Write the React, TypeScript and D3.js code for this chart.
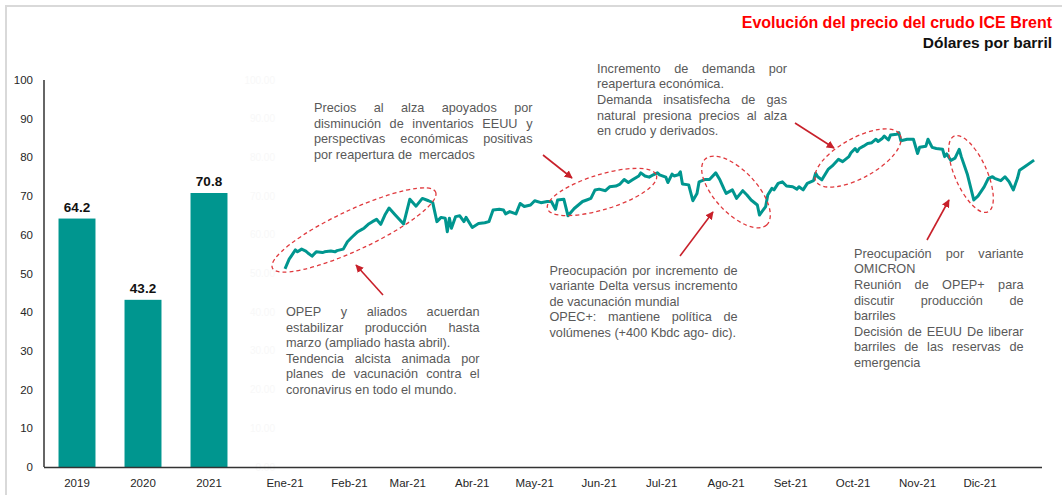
import React from 'react';
import * as d3 from 'd3';

const barYears = ['2019', '2020', '2021'];
const barValues = [64.2, 43.2, 70.8];
const yTicks = [0, 10, 20, 30, 40, 50, 60, 70, 80, 90, 100];
const monthLabels = ['Ene-21', 'Feb-21', 'Mar-21', 'Abr-21', 'May-21', 'Jun-21', 'Jul-21', 'Ago-21', 'Set-21', 'Oct-21', 'Nov-21', 'Dic-21'];

const brentDates = [
  '01-01', '01-03', '01-04', '01-06', '01-07', '01-09', '01-11', '01-12', '01-14', '01-16', '01-19', '01-20', '01-23', '01-25', '01-26', '01-29', '01-31',
  '02-02', '02-05', '02-07', '02-08', '02-10', '02-12', '02-14', '02-16', '02-18', '02-20', '02-23', '02-27',
  '03-02', '03-05', '03-08', '03-11', '03-13', '03-15', '03-17', '03-19', '03-20', '03-21', '03-22', '03-24', '03-26', '03-28', '03-29',
  '04-01', '04-04', '04-07', '04-09', '04-11', '04-14', '04-16', '04-17', '04-19', '04-22', '04-24', '04-26', '04-29',
  '05-01', '05-04', '05-07', '05-09', '05-11', '05-12', '05-15', '05-17', '05-20', '05-22', '05-24', '05-26', '05-28', '05-30',
  '06-01', '06-04', '06-06', '06-09', '06-11', '06-13', '06-15', '06-17', '06-20', '06-21', '06-23', '06-25', '06-27', '06-29', '06-30',
  '07-03', '07-04', '07-06', '07-07', '07-09', '07-10', '07-11', '07-14', '07-16', '07-18', '07-19', '07-22', '07-24', '07-27', '07-29', '07-31',
  '08-01', '08-04', '08-06', '08-09', '08-11', '08-13', '08-16', '08-17', '08-20', '08-21', '08-23', '08-24', '08-26', '08-28', '08-30',
  '09-02', '09-04', '09-05', '09-07', '09-09', '09-12', '09-13', '09-14', '09-16', '09-19', '09-21', '09-24', '09-26', '09-29', '09-30',
  '10-02', '10-03', '10-04', '10-06', '10-08', '10-10', '10-12', '10-13', '10-15', '10-16', '10-18', '10-19', '10-22', '10-23', '10-24', '10-27', '10-30',
  '11-01', '11-02', '11-05', '11-06', '11-08', '11-10', '11-13', '11-14', '11-15', '11-17', '11-19', '11-21', '11-22', '11-25', '11-28', '11-30',
  '12-03', '12-05', '12-07', '12-08', '12-11', '12-13', '12-15', '12-17', '12-19', '12-20', '12-23', '12-27',
];
const brentValues = [
  51.2, 53.7, 54.5, 56.1, 55.6, 56.3, 55.8, 55.3, 54.5, 55.6, 55.4, 55.6, 55.8, 55.6, 55.9, 56.3, 58.2,
  59.3, 60.8, 61.4, 61.7, 62.7, 63.4, 64.0, 62.7, 65.1, 66.9, 65.1, 62.8,
  69.2, 67.4, 69.4, 68.8, 68.3, 63.4, 64.5, 64.3, 60.8, 64.3, 61.7, 64.7, 64.9, 63.4, 64.5,
  61.9, 62.9, 63.1, 63.4, 66.4, 66.6, 66.4, 65.4, 66.0, 65.4, 68.1, 67.3, 67.7,
  68.8, 68.3, 68.6, 68.6, 66.6, 69.0, 69.2, 64.9, 66.8, 67.7, 68.6, 69.0, 69.4, 71.6,
  71.8, 71.4, 72.4, 72.6, 73.1, 74.3, 73.5, 74.2, 75.2, 76.0, 75.2, 74.9, 75.5, 76.0, 75.5,
  74.9, 73.5, 75.7, 75.2, 75.5, 76.3, 73.1, 72.9, 68.8, 70.7, 73.7, 74.3, 74.3, 76.0, 74.2, 71.8,
  70.7, 71.6, 69.4, 71.4, 70.3, 69.0, 67.7, 65.1, 67.3, 70.3, 72.0, 71.6, 73.3, 73.7, 72.6,
  72.4, 71.8, 72.4, 71.6, 73.3, 74.0, 75.9, 75.0, 74.2, 76.9, 77.8, 79.5, 78.9, 80.2, 81.2,
  82.3, 81.5, 82.3, 82.9, 83.6, 83.8, 84.7, 84.1, 84.9, 85.5, 84.5, 85.8, 86.0, 86.4, 84.3, 84.7, 84.7,
  81.0, 82.6, 82.9, 84.7, 82.6, 82.3, 82.1, 80.2, 80.9, 79.2, 79.8, 82.1, 80.2, 75.5, 69.0, 70.0,
  72.4, 74.6, 75.0, 74.6, 74.0, 75.0, 73.7, 71.6, 74.6, 76.7, 77.8, 79.3,
];

const titleMain = 'Evolución del precio del crudo ICE Brent';
const titleSub = 'Dólares por barril';

type Ln = { t: string; j: boolean };
const notePrecios: Ln[] = [
  { t: 'Precios al alza apoyados por', j: true },
  { t: 'disminución de inventarios EEUU y', j: true },
  { t: 'perspectivas económicas positivas', j: true },
  { t: 'por reapertura de  mercados', j: false },
];
const noteOpep: Ln[] = [
  { t: 'OPEP y aliados acuerdan', j: true },
  { t: 'estabilizar producción hasta', j: true },
  { t: 'marzo (ampliado hasta abril).', j: false },
  { t: 'Tendencia alcista animada por', j: true },
  { t: 'planes de vacunación contra el', j: true },
  { t: 'coronavirus en todo el mundo.', j: false },
];
const noteDemanda: Ln[] = [
  { t: 'Incremento de demanda por', j: true },
  { t: 'reapertura económica.', j: false },
  { t: 'Demanda insatisfecha de gas', j: true },
  { t: 'natural presiona precios al alza', j: true },
  { t: 'en crudo y derivados.', j: false },
];
const noteDelta: Ln[] = [
  { t: 'Preocupación por incremento de', j: true },
  { t: 'variante Delta versus incremento', j: true },
  { t: 'de vacunación mundial', j: false },
  { t: 'OPEC+: mantiene política de', j: true },
  { t: 'volúmenes (+400 Kbdc ago- dic).', j: false },
];
const noteOmicron: Ln[] = [
  { t: 'Preocupación por variante', j: true },
  { t: 'OMICRON', j: false },
  { t: 'Reunión de OPEP+ para', j: true },
  { t: 'discutir producción de', j: true },
  { t: 'barriles', j: false },
  { t: 'Decisión de EEUU De liberar', j: true },
  { t: 'barriles de las reservas de', j: true },
  { t: 'emergencia', j: false },
];

const FONT = "'Liberation Sans', Arial, Helvetica, sans-serif";
let measureCanvas: HTMLCanvasElement | null = null;
function measure(text: string, size: number) {
  if (!measureCanvas) measureCanvas = document.createElement('canvas');
  const ctx = measureCanvas.getContext('2d')!;
  ctx.font = `${size}px 'Liberation Sans', Arial, sans-serif`;
  return ctx.measureText(text).width;
}

function Note({ x, y, width, lines, size = 12.7, lh = 15.6 }: { x: number; y: number; width: number; lines: Ln[]; size?: number; lh?: number }) {
  const out: React.ReactNode[] = [];
  lines.forEach((ln, i) => {
    const yy = y + i * lh;
    if (!ln.j) {
      out.push(<tspan key={`${i}`} x={x} y={yy} style={{ whiteSpace: 'pre' }}>{ln.t}</tspan>);
      return;
    }
    const words = ln.t.split(/\s+/);
    const ws = words.map((w) => measure(w, size));
    const total = d3.sum(ws);
    const gap = words.length > 1 ? (width - total) / (words.length - 1) : 0;
    let cx = x;
    words.forEach((w, k) => {
      out.push(<tspan key={`${i}-${k}`} x={cx} y={yy}>{w}</tspan>);
      cx += ws[k] + gap;
    });
  });
  return (
    <text fontFamily={FONT} fontSize={size} fill="#595959">
      {out}
    </text>
  );
}

export default function App() {
  const W = 1062;
  const H = 495;
  const y = d3.scaleLinear().domain([0, 100]).range([467, 80]);
  const xBar = d3.scaleBand().domain(barYears).range([44, 242]).paddingInner(0.44).paddingOuter(0.22);
  const parse = d3.timeParse('%Y-%m-%d');
  const series = brentDates.map((d, i) => ({ date: parse(`2021-${d}`) as Date, v: brentValues[i] }));
  const xTime = d3.scaleTime().domain([new Date(2021, 0, 1), new Date(2021, 11, 1)]).range([285, 980]);
  const months = d3.timeMonths(new Date(2021, 0, 1), new Date(2022, 0, 1));
  const line = d3
    .line<{ date: Date; v: number }>()
    .x((d) => xTime(d.date))
    .y((d) => y(d.v))
    .curve(d3.curveLinear);

  const red = '#E03A3E';
  const arrowRed = '#C8202A';
  const teal = '#00968F';
  const axisText = '#262626';

  const ellipses = [
    { cx: 354, cy: 230, rx: 90, ry: 20, a: -25 },
    { cx: 602, cy: 192, rx: 57, ry: 17.5, a: -17 },
    { cx: 736, cy: 192, rx: 45, ry: 21, a: 47 },
    { cx: 858, cy: 158, rx: 48, ry: 20, a: -29 },
    { cx: 971, cy: 174, rx: 41.5, ry: 16, a: 66 },
  ];
  const arrows = [
    [383, 295, 356, 265],
    [543, 155, 572, 178],
    [795, 123, 834, 148],
    [680, 256, 713, 212],
    [927, 240, 949, 200],
  ];

  return (
    <svg width={W} height={H} style={{ position: 'absolute', left: 0, top: 0, background: '#fff' }} fontFamily={FONT}>
      <defs>
        <marker id="ah" viewBox="0 0 10 10" refX="9" refY="5" markerWidth="5" markerHeight="5" orient="auto">
          <path d="M0,0 L10,5 L0,10 z" fill={arrowRed} />
        </marker>
      </defs>
      <rect x={0} y={0} width={W} height={H} fill="#fff" />
      <rect x={6} y={6} width={W + 50} height={H + 50} fill="none" stroke="#d9d9d9" strokeWidth={2} />

      {/* title */}
      <text x={1052} y={28} textAnchor="end" fontSize={16} fontWeight="bold" fill="#FF0000">{titleMain}</text>
      <text x={1052} y={48} textAnchor="end" fontSize={15.5} fontWeight="bold" fill="#111">{titleSub}</text>

      {/* faint secondary axis */}
      {yTicks.map((t) => (
        <text key={`s${t}`} x={275} y={y(t)} dy="0.35em" textAnchor="end" fontSize={10} fill="#f8f8f8">{t.toFixed(2)}</text>
      ))}

      {/* left axis labels */}
      {yTicks.map((t) => (
        <text key={t} x={33} y={y(t)} dy="0.35em" textAnchor="end" fontSize={11.5} fill={axisText}>{t}</text>
      ))}

      {/* bars */}
      {barYears.map((yr, i) => (
        <g key={yr}>
          <rect x={xBar(yr)} y={y(barValues[i])} width={xBar.bandwidth()} height={y(0) - y(barValues[i])} fill={teal} />
          <text x={(xBar(yr) as number) + xBar.bandwidth() / 2} y={y(barValues[i]) - 7} textAnchor="middle" fontSize={13.5} fontWeight="bold" fill="#111">
            {barValues[i].toFixed(1)}
          </text>
          <text x={(xBar(yr) as number) + xBar.bandwidth() / 2} y={487} textAnchor="middle" fontSize={11.5} fill={axisText}>{yr}</text>
        </g>
      ))}

      {/* month labels */}
      {months.map((m, i) => (
        <text key={i} x={xTime(m)} y={487} textAnchor="middle" fontSize={11.5} fill={axisText}>{monthLabels[i]}</text>
      ))}

      {/* axes */}
      <line x1={44} x2={44} y1={y(100)} y2={y(0)} stroke="#333" strokeWidth={1.5} />
      <line x1={44} x2={1042} y1={y(0) + 0.5} y2={y(0) + 0.5} stroke="#333" strokeWidth={1.5} />

      {/* line */}
      <path d={line(series) || ''} fill="none" stroke={teal} strokeWidth={3} strokeLinejoin="round" />

      {/* ellipses */}
      {ellipses.map((e, i) => (
        <ellipse key={i} cx={e.cx} cy={e.cy} rx={e.rx} ry={e.ry} transform={`rotate(${e.a} ${e.cx} ${e.cy})`} fill="none" stroke={red} strokeWidth={1.3} strokeDasharray="4 3" />
      ))}

      {/* arrows */}
      {arrows.map((a, i) => (
        <line key={i} x1={a[0]} y1={a[1]} x2={a[2]} y2={a[3]} stroke={arrowRed} strokeWidth={1.6} markerEnd="url(#ah)" />
      ))}

      {/* notes */}
      <Note x={314} y={112} width={218.5} lines={notePrecios} />
      <Note x={286} y={316} width={193.5} lines={noteOpep} />
      <Note x={597} y={72.7} width={190} lines={noteDemanda} />
      <Note x={549.5} y={274.5} width={188} lines={noteDelta} />
      <Note x={854} y={257.8} width={169.5} lines={noteOmicron} />
    </svg>
  );
}
